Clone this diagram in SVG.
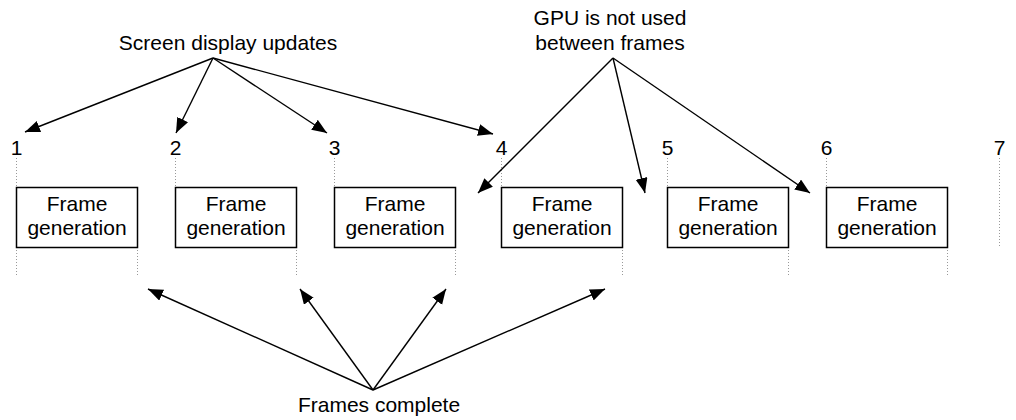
<svg xmlns="http://www.w3.org/2000/svg" width="1016" height="420" viewBox="0 0 1016 420">
<style>
text{font-family:"Liberation Sans",Arial,sans-serif;font-size:21px;fill:#000}
.lbl{text-anchor:middle}
.box{fill:#fff;stroke:#000;stroke-width:1.5}
.dot{stroke:#999;stroke-width:1;stroke-dasharray:1 2;fill:none}
.arr{stroke:#000;stroke-width:1.4;fill:none;marker-end:url(#ah)}
</style>
<defs>
<marker id="ah" markerUnits="userSpaceOnUse" markerWidth="16" markerHeight="13" refX="15" refY="6" orient="auto">
<path d="M0,0 L15,6 L0,12 z" fill="#000"/>
</marker>
</defs>
<rect width="1016" height="420" fill="#fff"/>
<g id="ticks">
<text class="lbl" x="16.5" y="155">1</text>
<text class="lbl" x="175.5" y="155">2</text>
<text class="lbl" x="334.5" y="155">3</text>
<text class="lbl" x="501.5" y="155">4</text>
<text class="lbl" x="667.5" y="155">5</text>
<text class="lbl" x="826.5" y="155">6</text>
<text class="lbl" x="999.5" y="155">7</text>
<path class="dot" d="M16.5,158V187 M175.5,158V187 M334.5,158V187 M501.5,158V187 M667.5,158V187 M826.5,158V187 M999.5,158V247 M16.5,247V277 M137.5,247V277 M296.5,247V277 M455.5,247V277 M622.5,247V277 M788.5,247V277 M947.5,247V277"/>
</g>
<g id="frame1"><rect class="box" x="16.5" y="187.5" width="121" height="60"/><text class="lbl" x="77" y="211">Frame</text><text class="lbl" x="77" y="235">generation</text></g>
<g id="frame2"><rect class="box" x="175.5" y="187.5" width="121" height="60"/><text class="lbl" x="236" y="211">Frame</text><text class="lbl" x="236" y="235">generation</text></g>
<g id="frame3"><rect class="box" x="334.5" y="187.5" width="121" height="60"/><text class="lbl" x="395" y="211">Frame</text><text class="lbl" x="395" y="235">generation</text></g>
<g id="frame4"><rect class="box" x="501.5" y="187.5" width="121" height="60"/><text class="lbl" x="562" y="211">Frame</text><text class="lbl" x="562" y="235">generation</text></g>
<g id="frame5"><rect class="box" x="667.5" y="187.5" width="121" height="60"/><text class="lbl" x="728" y="211">Frame</text><text class="lbl" x="728" y="235">generation</text></g>
<g id="frame6"><rect class="box" x="826.5" y="187.5" width="121" height="60"/><text class="lbl" x="887" y="211">Frame</text><text class="lbl" x="887" y="235">generation</text></g>
<g id="label-screen"><text class="lbl" x="228" y="50">Screen display updates</text></g>
<g id="label-gpu"><text class="lbl" x="610" y="25">GPU is not used</text><text class="lbl" x="610" y="50">between frames</text></g>
<g id="label-complete"><text class="lbl" x="379" y="412">Frames complete</text></g>
<g id="connectors">
<line class="arr" x1="213" y1="58" x2="25" y2="132"/>
<line class="arr" x1="213" y1="58" x2="176" y2="133"/>
<line class="arr" x1="213" y1="58" x2="327" y2="133"/>
<line class="arr" x1="213" y1="58" x2="493" y2="134"/>
<line class="arr" x1="613" y1="58" x2="478" y2="193"/>
<line class="arr" x1="613" y1="58" x2="645" y2="193"/>
<line class="arr" x1="613" y1="58" x2="810" y2="193"/>
<line class="arr" x1="373" y1="390" x2="148" y2="289"/>
<line class="arr" x1="373" y1="390" x2="300" y2="289"/>
<line class="arr" x1="373" y1="390" x2="446" y2="289"/>
<line class="arr" x1="373" y1="390" x2="605" y2="289"/>
</g>
</svg>
